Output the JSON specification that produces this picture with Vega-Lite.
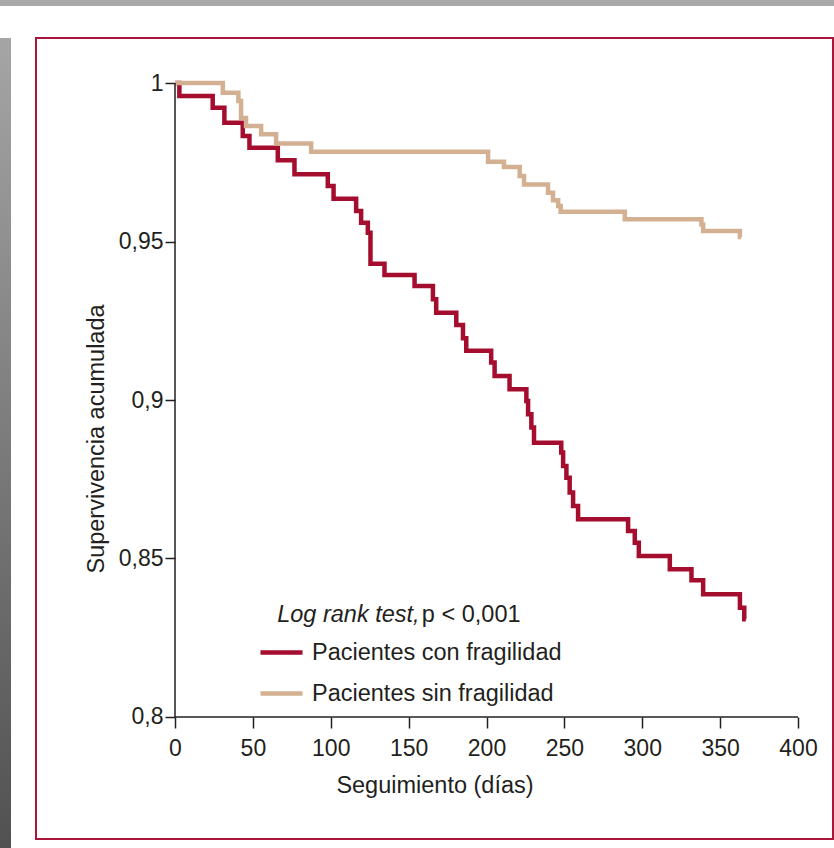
{
  "$schema": "https://vega.github.io/schema/vega-lite/v6.json",
  "padding": {"left": 0, "top": 0, "right": 0, "bottom": 0},
  "background": "#ffffff",
  "spacing": 0,
  "config": {
    "view": {"stroke": "#a8163b", "strokeWidth": 2, "fill": "#ffffff"},
    "font": "Liberation Sans",
    "axis": {
      "labelFont": "Liberation Sans",
      "titleFont": "Liberation Sans",
      "labelColor": "#231f20",
      "titleColor": "#231f20",
      "tickColor": "#231f20",
      "tickWidth": 1.5,
      "grid": false,
      "titleFontWeight": "normal",
      "labelOverlap": false,
      "labelFlush": false
    }
  },
  "datasets": {
    "curvas": [
      {"dias": 0, "supervivencia": 1.0, "grupo": "Pacientes con fragilidad"},
      {"dias": 2.8, "supervivencia": 0.9959, "grupo": "Pacientes con fragilidad"},
      {"dias": 24.2, "supervivencia": 0.9922, "grupo": "Pacientes con fragilidad"},
      {"dias": 31.7, "supervivencia": 0.9875, "grupo": "Pacientes con fragilidad"},
      {"dias": 43.5, "supervivencia": 0.9833, "grupo": "Pacientes con fragilidad"},
      {"dias": 47.8, "supervivencia": 0.9796, "grupo": "Pacientes con fragilidad"},
      {"dias": 66, "supervivencia": 0.9756, "grupo": "Pacientes con fragilidad"},
      {"dias": 76.7, "supervivencia": 0.9712, "grupo": "Pacientes con fragilidad"},
      {"dias": 98.1, "supervivencia": 0.9675, "grupo": "Pacientes con fragilidad"},
      {"dias": 101.8, "supervivencia": 0.9635, "grupo": "Pacientes con fragilidad"},
      {"dias": 116.3, "supervivencia": 0.9596, "grupo": "Pacientes con fragilidad"},
      {"dias": 119.5, "supervivencia": 0.9559, "grupo": "Pacientes con fragilidad"},
      {"dias": 123.8, "supervivencia": 0.9528, "grupo": "Pacientes con fragilidad"},
      {"dias": 125.5, "supervivencia": 0.943, "grupo": "Pacientes con fragilidad"},
      {"dias": 134.5, "supervivencia": 0.9394, "grupo": "Pacientes con fragilidad"},
      {"dias": 153.8, "supervivencia": 0.936, "grupo": "Pacientes con fragilidad"},
      {"dias": 165.6, "supervivencia": 0.9318, "grupo": "Pacientes con fragilidad"},
      {"dias": 167.7, "supervivencia": 0.9275, "grupo": "Pacientes con fragilidad"},
      {"dias": 180.6, "supervivencia": 0.9237, "grupo": "Pacientes con fragilidad"},
      {"dias": 184.9, "supervivencia": 0.9195, "grupo": "Pacientes con fragilidad"},
      {"dias": 187, "supervivencia": 0.9155, "grupo": "Pacientes con fragilidad"},
      {"dias": 203, "supervivencia": 0.9118, "grupo": "Pacientes con fragilidad"},
      {"dias": 205.2, "supervivencia": 0.9076, "grupo": "Pacientes con fragilidad"},
      {"dias": 214.8, "supervivencia": 0.9034, "grupo": "Pacientes con fragilidad"},
      {"dias": 225.6, "supervivencia": 0.8997, "grupo": "Pacientes con fragilidad"},
      {"dias": 226.7, "supervivencia": 0.8955, "grupo": "Pacientes con fragilidad"},
      {"dias": 228.8, "supervivencia": 0.8913, "grupo": "Pacientes con fragilidad"},
      {"dias": 230.5, "supervivencia": 0.8865, "grupo": "Pacientes con fragilidad"},
      {"dias": 248, "supervivencia": 0.8834, "grupo": "Pacientes con fragilidad"},
      {"dias": 249.2, "supervivencia": 0.8792, "grupo": "Pacientes con fragilidad"},
      {"dias": 251.3, "supervivencia": 0.8755, "grupo": "Pacientes con fragilidad"},
      {"dias": 253.4, "supervivencia": 0.8708, "grupo": "Pacientes con fragilidad"},
      {"dias": 255.6, "supervivencia": 0.8666, "grupo": "Pacientes con fragilidad"},
      {"dias": 258.8, "supervivencia": 0.8624, "grupo": "Pacientes con fragilidad"},
      {"dias": 290.9, "supervivencia": 0.8587, "grupo": "Pacientes con fragilidad"},
      {"dias": 295.2, "supervivencia": 0.855, "grupo": "Pacientes con fragilidad"},
      {"dias": 297.8, "supervivencia": 0.8508, "grupo": "Pacientes con fragilidad"},
      {"dias": 317.7, "supervivencia": 0.8466, "grupo": "Pacientes con fragilidad"},
      {"dias": 331.6, "supervivencia": 0.8431, "grupo": "Pacientes con fragilidad"},
      {"dias": 339.1, "supervivencia": 0.8387, "grupo": "Pacientes con fragilidad"},
      {"dias": 362.7, "supervivencia": 0.8345, "grupo": "Pacientes con fragilidad"},
      {"dias": 365.5, "supervivencia": 0.8308, "grupo": "Pacientes con fragilidad"},
      {"dias": 366.5, "supervivencia": 0.8308, "grupo": "Pacientes con fragilidad"},
      {"dias": 0, "supervivencia": 1.0, "grupo": "Pacientes sin fragilidad"},
      {"dias": 30.7, "supervivencia": 0.9969, "grupo": "Pacientes sin fragilidad"},
      {"dias": 40.7, "supervivencia": 0.9943, "grupo": "Pacientes sin fragilidad"},
      {"dias": 42.4, "supervivencia": 0.989, "grupo": "Pacientes sin fragilidad"},
      {"dias": 45.6, "supervivencia": 0.9864, "grupo": "Pacientes sin fragilidad"},
      {"dias": 55.3, "supervivencia": 0.9838, "grupo": "Pacientes sin fragilidad"},
      {"dias": 64.9, "supervivencia": 0.9809, "grupo": "Pacientes sin fragilidad"},
      {"dias": 87.4, "supervivencia": 0.9783, "grupo": "Pacientes sin fragilidad"},
      {"dias": 201, "supervivencia": 0.9752, "grupo": "Pacientes sin fragilidad"},
      {"dias": 211.2, "supervivencia": 0.9735, "grupo": "Pacientes sin fragilidad"},
      {"dias": 221.3, "supervivencia": 0.9707, "grupo": "Pacientes sin fragilidad"},
      {"dias": 224.1, "supervivencia": 0.968, "grupo": "Pacientes sin fragilidad"},
      {"dias": 239.5, "supervivencia": 0.9654, "grupo": "Pacientes sin fragilidad"},
      {"dias": 242.7, "supervivencia": 0.963, "grupo": "Pacientes sin fragilidad"},
      {"dias": 246, "supervivencia": 0.9612, "grupo": "Pacientes sin fragilidad"},
      {"dias": 247.6, "supervivencia": 0.9594, "grupo": "Pacientes sin fragilidad"},
      {"dias": 288.8, "supervivencia": 0.957, "grupo": "Pacientes sin fragilidad"},
      {"dias": 338, "supervivencia": 0.9554, "grupo": "Pacientes sin fragilidad"},
      {"dias": 339.1, "supervivencia": 0.9533, "grupo": "Pacientes sin fragilidad"},
      {"dias": 362.7, "supervivencia": 0.9514, "grupo": "Pacientes sin fragilidad"},
      {"dias": 363.5, "supervivencia": 0.9514, "grupo": "Pacientes sin fragilidad"}
    ]
  },
  "vconcat": [
    {
      "width": 834,
      "height": 6,
      "view": {"fill": "#a8a8a8", "stroke": null},
      "data": {"values": []},
      "mark": "point"
    },
    {
      "hconcat": [
        {
          "width": 11,
          "height": 842,
          "view": {
            "stroke": null,
            "fill": {
              "gradient": "linear", "x1": 0, "y1": 0, "x2": 0, "y2": 1,
              "stops": [{"offset": 0, "color": "#a5a5a5"}, {"offset": 1, "color": "#4e4e4e"}]
            }
          },
          "data": {"values": []},
          "mark": "point"
        },
        {
          "width": 797,
          "height": 801,
          "title": {"text": " ", "fontSize": 1, "offset": 30},
          "layer": [
            {
              "data": {"name": "curvas"},
              "mark": {"type": "line", "interpolate": "step-after", "strokeWidth": 4.5, "strokeJoin": "miter", "strokeCap": "butt"},
              "encoding": {
                "x": {
                  "field": "dias", "type": "quantitative",
                  "scale": {"domain": [-89.25, 422.47], "nice": false, "zero": false},
                  "axis": {
                    "values": [0, 50, 100, 150, 200, 250, 300, 350, 400],
                    "domain": false, "offset": -122, "tickSize": 11,
                    "labelFontSize": 23, "labelPadding": 9,
                    "title": "Seguimiento (días)", "titleFontSize": 23.5, "titlePadding": 13
                  }
                },
                "y": {
                  "field": "supervivencia", "type": "quantitative",
                  "scale": {"domain": [0.76151, 1.0142], "nice": false, "zero": false},
                  "axis": {
                    "values": [0.8, 0.85, 0.9, 0.95, 1],
                    "format": "~g",
                    "labelExpr": "replace(datum.label, '.', ',')",
                    "domain": false, "offset": -139, "tickSize": 10,
                    "labelFontSize": 23, "labelPadding": 2,
                    "title": "Supervivencia acumulada", "titleFontSize": 23.5, "titlePadding": 10
                  }
                },
                "color": {
                  "field": "grupo", "type": "nominal",
                  "scale": {"domain": ["Pacientes con fragilidad", "Pacientes sin fragilidad"], "range": ["#a50d2f", "#d3b092"]},
                  "legend": {
                    "orient": "none", "legendX": 258, "legendY": 629, "title": null,
                    "symbolType": "stroke", "symbolSize": 1764, "symbolStrokeWidth": 4.5,
                    "labelFontSize": 23.5, "labelFont": "Liberation Sans", "labelColor": "#231f20",
                    "labelOffset": 7, "rowPadding": 6, "padding": 0, "labelLimit": 0
                  }
                }
              }
            },
            {
              "data": {"values": [{}]},
              "mark": {"type": "rule", "color": "#231f20", "strokeWidth": 1.5},
              "encoding": {"x": {"datum": 0}, "x2": {"datum": 400}, "y": {"datum": 0.8}}
            },
            {
              "data": {"values": [{}]},
              "mark": {"type": "rule", "color": "#231f20", "strokeWidth": 1.5},
              "encoding": {"x": {"datum": 0}, "y": {"datum": 0.8}, "y2": {"datum": 1}}
            },
            {
              "data": {"values": [{}]},
              "mark": {"type": "text", "align": "left", "baseline": "alphabetic", "fontSize": 23.5, "fontStyle": "italic", "font": "Liberation Sans", "color": "#231f20", "text": "Log rank test,"},
              "encoding": {"x": {"datum": 65.6}, "y": {"datum": 0.83}}
            },
            {
              "data": {"values": [{}]},
              "mark": {"type": "text", "align": "left", "baseline": "alphabetic", "fontSize": 23.5, "font": "Liberation Sans", "color": "#231f20", "text": "p < 0,001"},
              "encoding": {"x": {"datum": 158.5}, "y": {"datum": 0.83}}
            }
          ]
        }
      ],
      "spacing": 24
    }
  ]
}
